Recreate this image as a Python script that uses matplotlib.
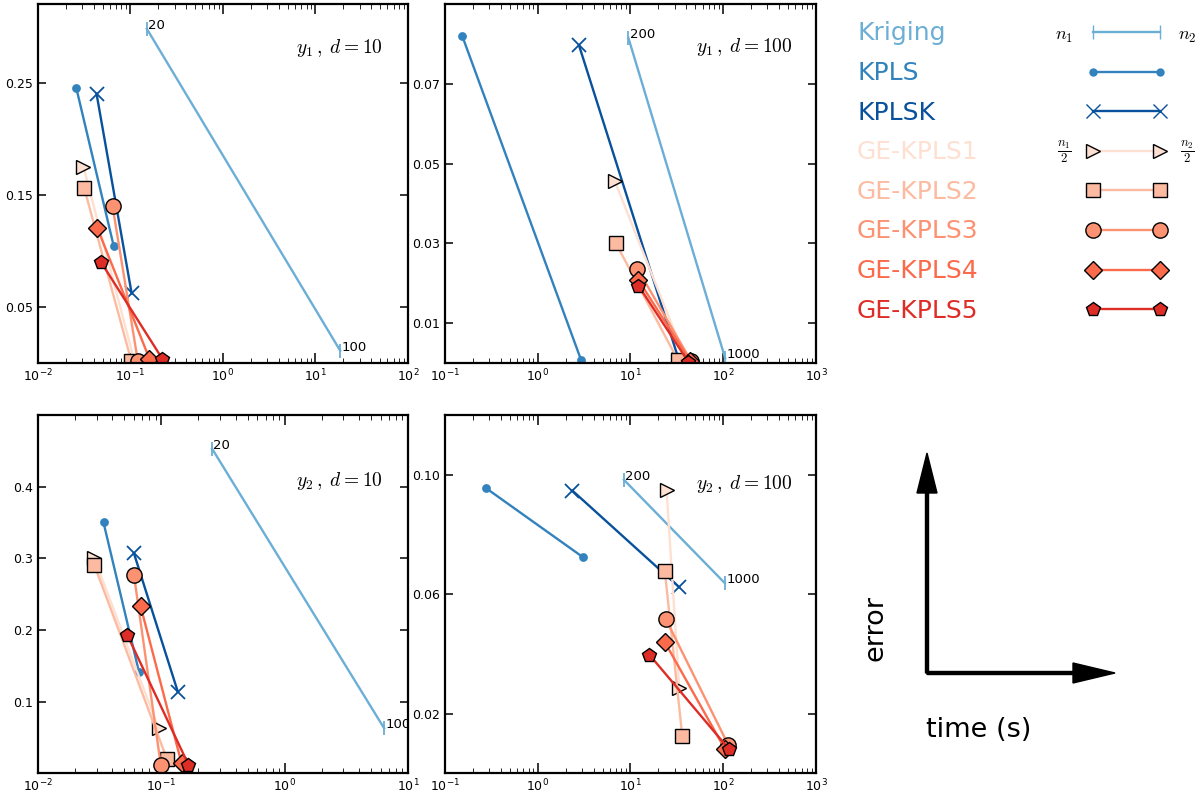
import numpy as np
import matplotlib
matplotlib.use('Agg')
import matplotlib.pyplot as plt
from matplotlib.ticker import FormatStrFormatter

# methods, colours and markers
methods = ['Kriging', 'KPLS', 'KPLSK', 'GE-KPLS1', 'GE-KPLS2', 'GE-KPLS3', 'GE-KPLS4', 'GE-KPLS5']
colors = ['#6baed6', '#3182bd', '#08519c', '#fee0d2', '#fcbba1', '#fc9272', '#fb6a4a', '#de2d26']
markers = ['|', 'o', 'x', '>', 's', 'o', 'D', 'p']
msizes = [10, 5, 10, 10, 10, 11, 9, 10]

# (time at n1, time at n2) and (error at n1, error at n2) for each method
time_y1_d10 = [[0.15, 18.5], [0.026, 0.066], [0.043, 0.103], [0.031, 0.11],
               [0.0316, 0.102], [0.064, 0.12], [0.044, 0.16], [0.048, 0.22]]
err_y1_d10 = [[0.298, 0.011], [0.245, 0.104], [0.240, 0.062], [0.175, 0.002],
              [0.156, 0.002], [0.140, 0.002], [0.120, 0.004], [0.090, 0.004]]

time_y1_d100 = [[9.5, 105], [0.154, 2.93], [2.79, 33], [6.8, 40],
                [6.9, 32.3], [11.9, 45], [12.1, 44], [12.2, 42]]
err_y1_d100 = [[0.0815, 0.0012], [0.0819, 0.0008], [0.0796, 0.001], [0.0455, 0.0005],
               [0.0302, 0.0008], [0.0236, 0.0005], [0.0209, 0.0005], [0.0194, 0.0003]]

time_y2_d10 = [[0.258, 6.4], [0.034, 0.066], [0.060, 0.136], [0.0285, 0.095],
               [0.0286, 0.111], [0.060, 0.099], [0.068, 0.146], [0.053, 0.166]]
err_y2_d10 = [[0.453, 0.063], [0.350, 0.141], [0.307, 0.114], [0.301, 0.063],
              [0.291, 0.020], [0.277, 0.012], [0.233, 0.014], [0.193, 0.012]]

time_y2_d100 = [[8.5, 104], [0.277, 3.1], [2.36, 33.6], [24.5, 33.6],
                [23.5, 36.2], [24.1, 113], [23.5, 104], [16, 116]]
err_y2_d100 = [[0.0983, 0.0637], [0.0955, 0.0723], [0.0947, 0.0623], [0.095, 0.0284],
               [0.0676, 0.0124], [0.0516, 0.0096], [0.0439, 0.0082], [0.0397, 0.008]]

n_d10 = ['20', '100']
n_d100 = ['200', '1000']

plt.rcParams['xtick.direction'] = 'in'
plt.rcParams['ytick.direction'] = 'in'
plt.rcParams['xtick.top'] = True
plt.rcParams['ytick.right'] = True
plt.rcParams['xtick.major.size'] = 7
plt.rcParams['xtick.minor.size'] = 3.5
plt.rcParams['ytick.major.size'] = 6
plt.rcParams['xtick.major.width'] = 1.1
plt.rcParams['ytick.major.width'] = 1.1
plt.rcParams['xtick.labelsize'] = 9
plt.rcParams['ytick.labelsize'] = 9
plt.rcParams['axes.linewidth'] = 1.6

fig = plt.figure(figsize=(12.01, 7.95), dpi=100)

panels = [
    ([0.0316, 0.5434, 0.3081, 0.4516], time_y1_d10, err_y1_d10, (1e-2, 1e2), (0, 0.32),
     [0.05, 0.15, 0.25], '%.2f', n_d10, r'$y_1\,,\;d=10$', (0.932, 0.863)),
    ([0.3705, 0.5434, 0.3089, 0.4516], time_y1_d100, err_y1_d100, (1e-1, 1e3), (0, 0.09),
     [0.01, 0.03, 0.05, 0.07], '%.2f', n_d100, r'$y_1\,,\;d=100$', (0.937, 0.867)),
    ([0.0316, 0.0273, 0.3081, 0.4507], time_y2_d10, err_y2_d10, (1e-2, 1e1), (0, 0.5),
     [0.1, 0.2, 0.3, 0.4], '%.1f', n_d10, r'$y_2\,,\;d=10$', (0.932, 0.802)),
    ([0.3705, 0.0273, 0.3089, 0.4507], time_y2_d100, err_y2_d100, (1e-1, 1e3), (0, 0.12),
     [0.02, 0.06, 0.10], '%.2f', n_d100, r'$y_2\,,\;d=100$', (0.937, 0.793)),
]

for rect, t, e, xl, yl, yt, fmt, nlab, title, tpos in panels:
    ax = fig.add_axes(rect)
    ax.set_xscale('log')
    for i in range(len(methods)):
        if i >= 3:
            ax.plot(t[i], e[i], color=colors[i], lw=1.7, marker=markers[i], ms=msizes[i],
                    mfc=colors[i], mec='k', mew=1)
        else:
            ax.plot(t[i], e[i], color=colors[i], lw=1.7, marker=markers[i], ms=msizes[i],
                    mfc=colors[i], mec=colors[i], mew=1.3)
    for j in range(2):
        ax.annotate(nlab[j], (t[0][j], e[0][j]), xytext=(1, 0), textcoords='offset points',
                    fontsize=9.5, va='baseline', annotation_clip=False, clip_on=True)
    ax.set_xlim(xl)
    ax.set_ylim(yl)
    ax.set_yticks(yt)
    ax.yaxis.set_major_formatter(FormatStrFormatter(fmt))
    ax.text(tpos[0], tpos[1], title, transform=ax.transAxes, ha='right', va='baseline',
            fontsize=14, math_fontfamily='cm')

# legend and arrow sketch, drawn in pixel units
lg = fig.add_axes([0, 0, 1, 1])
lg.set_xlim(0, 1201)
lg.set_ylim(795, 0)
lg.axis('off')
lg.patch.set_visible(False)

for i, m in enumerate(methods):
    yb = 40.4 + 39.6 * i
    lg.text(857, yb, m, color=colors[i], fontsize=18, va='baseline')
    mec = 'k' if i >= 3 else colors[i]
    lg.plot([1093, 1160], [yb - 8.5, yb - 8.5], color=colors[i], lw=1.7, marker=markers[i],
            ms=msizes[i], mfc=colors[i], mec=mec, mew=1)

lg.text(1064, 36, r'$n_1$', ha='center', va='center', fontsize=13, math_fontfamily='cm')
lg.text(1187, 36, r'$n_2$', ha='center', va='center', fontsize=13, math_fontfamily='cm')
lg.text(1064, 152, r'$\frac{n_1}{2}$', ha='center', va='center', fontsize=13, math_fontfamily='cm')
lg.text(1187, 152, r'$\frac{n_2}{2}$', ha='center', va='center', fontsize=13, math_fontfamily='cm')

lg.arrow(927, 673, 0, -220, width=3, head_width=20, head_length=40,
         length_includes_head=True, fc='k', ec='k')
lg.arrow(927, 673, 188, 0, width=3, head_width=20, head_length=42,
         length_includes_head=True, fc='k', ec='k')
lg.text(876, 628, 'error', rotation=90, ha='center', va='center', fontsize=19.5)
lg.text(979, 730, 'time (s)', ha='center', va='center', fontsize=19.5)

fig.savefig('out.png', dpi=100, facecolor='white')
